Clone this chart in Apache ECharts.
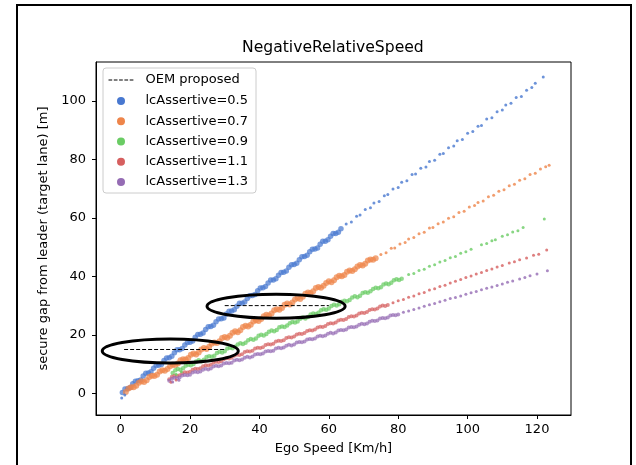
<!DOCTYPE html>
<html><head><meta charset="utf-8">
<script src="https://cdn.jsdelivr.net/npm/echarts@6/dist/echarts.min.js"></script>
<style>html,body{margin:0;padding:0;background:#fff}#c{width:636px;height:465px}</style>
</head><body><div id="c"></div>
<script>
const chartTitle = 'NegativeRelativeSpeed';
const xName = 'Ego Speed [Km/h]';
const yName = 'secure gap from leader (target lane) [m]';
const xTicks = [0, 20, 40, 60, 80, 100, 120];
const yTicks = [0, 20, 40, 60, 80, 100];
const oemName = 'OEM proposed';
const seriesNames = ['lcAssertive=0.5', 'lcAssertive=0.7', 'lcAssertive=0.9', 'lcAssertive=1.1', 'lcAssertive=1.3'];
const oemLow = [[1, 15], [30, 15]];
const oemHigh = [[30, 30], [60, 30]];

const blueDense = [[0.5,0.3],[2,1.6],[3.5,3.3],[5,4.3],[6.5,5.9],[8,7.0],[9.5,8.6],[11,9.6],[12.5,11.2],[14,12.2],[15.5,13.9],[17,14.9],[18.5,16.5],[20,17.5],[21.5,19.2],[23,20.2],[24.5,21.8],[26,22.9],[27.5,24.5],[29,25.5],[30.5,27.1],[32,28.2],[33.5,29.8],[35,30.8],[36.5,32.4],[38,33.5],[39.5,35.1],[41,36.1],[42.5,37.7],[44,38.8],[45.5,40.4],[47,41.4],[48.5,43.1],[50,44.1],[51.5,45.7],[53,46.8],[54.5,48.4],[56,49.4],[57.5,51.0],[59,52.0],[60.5,53.7],[62,54.7],[63.5,56.3]];
const blueMid = [[1.25,1.5],[2.75,2.0],[4.25,4.1],[5.75,4.6],[7.25,6.9],[8.75,7.4],[10.25,9.5],[11.75,9.9],[13.25,12.1],[14.75,12.7],[16.25,14.9],[17.75,15.3],[19.25,17.4],[20.75,17.9],[22.25,20.1],[23.75,20.6],[25.25,22.8],[26.75,23.3],[28.25,25.4],[29.75,25.8],[31.25,28.1],[32.75,28.6],[34.25,30.8],[35.75,31.2],[37.25,33.4],[38.75,33.8],[40.25,36.0],[41.75,36.5],[43.25,38.8],[44.75,39.2],[46.25,41.3],[47.75,41.8],[49.25,44.0],[50.75,44.5],[52.25,46.7],[53.75,47.2],[55.25,49.3],[56.75,49.7],[58.25,52.0],[59.75,52.5],[61.25,54.7],[62.75,55.1]];
const blueSparse = [[0.3,-1.6],[1.2,-0.6],[65,57.9],[66.5,58.6],[68,60.6],[69,61.0],[70.5,62.9],[72,63.5],[73,65.1],[74.5,65.6],[76,67.6],[77,68.0],[78.5,69.9],[80,70.4],[81,72.2],[82.5,72.7],[84,74.8],[85,75.0],[86.5,77.0],[88,77.4],[89,79.3],[90.5,79.7],[92,81.8],[93,82.0],[94.5,84.0],[96,84.6],[97,86.4],[98.5,86.8],[100,88.9],[101.5,89.5],[103,91.3],[104,91.6],[105.5,93.8],[107,94.2],[108.5,96.3],[110,96.9],[111,98.6],[112.5,99.2],[114,101.2],[115.5,101.5],[117,103.6],[118.5,104.6],[119.5,106.0],[121.8,108.2]];

const orangeDense = [[1.5,0.5],[3,2.1],[4.5,2.6],[6,4.1],[7.5,4.5],[9,6.0],[10.5,6.4],[12,7.9],[13.5,8.3],[15,9.8],[16.5,10.2],[18,11.7],[19.5,12.1],[21,13.6],[22.5,14.0],[24,15.5],[25.5,15.9],[27,17.4],[28.5,17.8],[30,19.3],[31.5,19.7],[33,21.2],[34.5,21.6],[36,23.1],[37.5,23.5],[39,25.0],[40.5,25.4],[42,26.9],[43.5,27.3],[45,28.8],[46.5,29.2],[48,30.7],[49.5,31.1],[51,32.6],[52.5,33.0],[54,34.5],[55.5,34.9],[57,36.4],[58.5,36.8],[60,38.3],[61.5,38.7],[63,40.2],[64.5,40.5],[66,42.0],[67.5,42.4],[69,43.9],[70.5,44.3],[72,45.8],[73.5,46.2]];
const orangeMid = [[2.25,1.7],[3.75,2.1],[5.25,3.6],[6.75,3.9],[8.25,5.6],[9.75,5.9],[11.25,7.5],[12.75,7.7],[14.25,9.3],[15.75,9.6],[17.25,11.3],[18.75,11.6],[20.25,13.2],[21.75,13.3],[23.25,15.0],[24.75,15.2],[26.25,17.0],[27.75,17.2],[29.25,18.9],[30.75,19.0],[32.25,20.7],[33.75,20.9],[35.25,22.7],[36.75,22.9],[38.25,24.6],[39.75,24.7],[41.25,26.4],[42.75,26.6],[44.25,28.4],[45.75,28.6],[47.25,30.3],[48.75,30.4],[50.25,32.1],[51.75,32.3],[53.25,34.1],[54.75,34.3],[56.25,36.0],[57.75,36.1],[59.25,37.7],[60.75,38.0],[62.25,39.7],[63.75,40.0],[65.25,41.6],[66.75,41.8],[68.25,43.4],[69.75,43.7],[71.25,45.4],[72.75,45.7]];
const orangeSparse = [[75,47.5],[76.5,48.1],[78,49.6],[79,49.7],[80.5,51.1],[82,51.6],[83,52.8],[84.5,53.3],[86,54.6],[87.5,55.1],[89,56.5],[90,56.7],[91.5,58.0],[93,58.6],[94.5,59.9],[96,60.4],[97.5,61.8],[99,62.3],[100.5,63.7],[102,64.2],[103,65.3],[104.5,65.8],[106,67.2],[107.5,67.7],[109,69.1],[110.5,69.6],[112,71.0],[113.5,71.5],[115,72.9],[116.5,73.4],[118,74.8],[119.5,75.3],[121,76.7],[122.5,77.5],[123.5,78.0]];

const greenDense = [[15,7.0],[16.5,8.3],[18,8.6],[19.5,9.8],[21,10.0],[22.5,11.3],[24,11.5],[25.5,12.7],[27,12.9],[28.5,14.2],[30,14.4],[31.5,15.6],[33,15.9],[34.5,17.1],[36,17.3],[37.5,18.6],[39,18.8],[40.5,20.0],[42,20.3],[43.5,21.5],[45,21.7],[46.5,22.9],[48,23.2],[49.5,24.4],[51,24.6],[52.5,25.9],[54,26.1],[55.5,27.3],[57,27.6],[58.5,28.8],[60,29.0],[61.5,30.3],[63,30.5],[64.5,31.7],[66,31.9],[67.5,33.2],[69,33.4],[70.5,34.6],[72,34.9],[73.5,36.1],[75,36.3],[76.5,37.6],[78,37.8],[79.5,39.0],[81,39.2]];
const greenMid = [[15.75,7.9],[17.25,8.1],[18.75,9.4],[20.25,9.6],[21.75,10.9],[23.25,11.0],[24.75,12.4],[26.25,12.5],[27.75,13.8],[29.25,14.0],[30.75,15.3],[32.25,15.4],[33.75,16.7],[35.25,16.9],[36.75,18.2],[38.25,18.3],[39.75,19.7],[41.25,19.8],[42.75,21.1],[44.25,21.2],[45.75,22.6],[47.25,22.7],[48.75,24.0],[50.25,24.2],[51.75,25.5],[53.25,25.6],[54.75,27.0],[56.25,27.1],[57.75,28.4],[59.25,28.6],[60.75,29.9],[62.25,30.0],[63.75,31.3],[65.25,31.5],[66.75,32.8],[68.25,32.9],[69.75,34.3],[71.25,34.4],[72.75,35.7],[74.25,35.9],[75.75,37.2],[77.25,37.3],[78.75,38.7],[80.25,38.8]];
const greenSparse = [[16,6.5],[17.5,7.4],[83,40.6],[84.5,41.0],[86,42.0],[87.5,42.4],[89,43.5],[90.5,44.0],[92,44.9],[93.5,45.4],[95,46.4],[96.5,46.8],[98,47.9],[99.5,48.4],[101,49.3],[104,50.8],[105.5,51.2],[107,52.2],[108,52.5],[110,53.7],[111.5,54.2],[113,55.2],[114.5,55.6],[116,56.7],[122.1,59.6]];

const redDense = [[14,4.8],[15.5,6.0],[17,6.2],[18.5,7.2],[20,7.4],[21.5,8.4],[23,8.6],[24.5,9.6],[26,9.8],[27.5,10.8],[29,11.0],[30.5,12.0],[32,12.2],[33.5,13.2],[35,13.4],[36.5,14.4],[38,14.6],[39.5,15.6],[41,15.8],[42.5,16.8],[44,17.0],[45.5,18.0],[47,18.2],[48.5,19.2],[50,19.4],[51.5,20.4],[53,20.6],[54.5,21.6],[56,21.8],[57.5,22.8],[59,23.0],[60.5,24.0],[62,24.2],[63.5,25.2],[65,25.4],[66.5,26.4],[68,26.6],[69.5,27.6],[71,27.8],[72.5,28.8],[74,29.0],[75.5,30.0],[77,30.2]];
const redMid = [[14.75,5.7],[16.25,5.9],[17.75,6.9],[19.25,7.1],[20.75,8.1],[22.25,8.3],[23.75,9.3],[25.25,9.5],[26.75,10.5],[28.25,10.7],[29.75,11.7],[31.25,11.9],[32.75,12.9],[34.25,13.1],[35.75,14.1],[37.25,14.3],[38.75,15.3],[40.25,15.5],[41.75,16.5],[43.25,16.7],[44.75,17.7],[46.25,17.9],[47.75,18.9],[49.25,19.1],[50.75,20.1],[52.25,20.3],[53.75,21.3],[55.25,21.5],[56.75,22.5],[58.25,22.7],[59.75,23.7],[61.25,23.9],[62.75,24.9],[64.25,25.1],[65.75,26.1],[67.25,26.3],[68.75,27.3],[70.25,27.5],[71.75,28.5],[73.25,28.7],[74.75,29.7],[76.25,29.9]];
const redSparse = [[14.5,3.8],[16,4.6],[78.5,31.0],[80,31.7],[81.5,32.1],[83,32.9],[84.5,33.3],[86,34.1],[87.5,34.5],[89,35.3],[90.5,35.8],[92,36.5],[93.5,37.0],[95,37.7],[96.5,38.3],[98,38.9],[99.5,39.6],[101,40.1],[102.5,40.8],[104,41.3],[105.5,42.0],[107,42.5],[108.5,43.2],[110,43.7],[112,44.6],[113.5,45.0],[115,45.7],[117,46.3],[119,47.2],[120.5,47.6],[122.8,49.0]];

const purpleDense = [[14,4.3],[15.5,5.3],[17,5.4],[18.5,6.3],[20,6.4],[21.5,7.4],[23,7.5],[24.5,8.4],[26,8.5],[27.5,9.4],[29,9.5],[30.5,10.4],[32,10.5],[33.5,11.5],[35,11.6],[36.5,12.5],[38,12.6],[39.5,13.5],[41,13.6],[42.5,14.5],[44,14.6],[45.5,15.6],[47,15.7],[48.5,16.6],[50,16.7],[51.5,17.6],[53,17.7],[54.5,18.6],[56,18.8],[57.5,19.7],[59,19.8],[60.5,20.7],[62,20.8],[63.5,21.7],[65,21.8],[66.5,22.7],[68,22.9],[69.5,23.8],[71,23.9],[72.5,24.8],[74,24.9],[75.5,25.8],[77,25.9],[78.5,26.8],[80,27.0]];
const purpleMid = [[14.75,5.0],[16.25,5.2],[17.75,6.1],[19.25,6.2],[20.75,7.1],[22.25,7.2],[23.75,8.1],[25.25,8.2],[26.75,9.2],[28.25,9.3],[29.75,10.2],[31.25,10.3],[32.75,11.2],[34.25,11.3],[35.75,12.2],[37.25,12.3],[38.75,13.3],[40.25,13.4],[41.75,14.3],[43.25,14.4],[44.75,15.3],[46.25,15.4],[47.75,16.3],[49.25,16.4],[50.75,17.4],[52.25,17.5],[53.75,18.4],[55.25,18.5],[56.75,19.4],[58.25,19.5],[59.75,20.4],[61.25,20.5],[62.75,21.5],[64.25,21.6],[65.75,22.5],[67.25,22.6],[68.75,23.5],[70.25,23.6],[71.75,24.5],[73.25,24.7],[74.75,25.6],[76.25,25.7],[77.75,26.6],[79.25,26.7]];
const purpleSparse = [[15,3.9],[16.8,4.5],[81.5,27.7],[83,28.2],[84.5,28.7],[86,29.2],[87.5,29.8],[89,30.3],[90.5,30.7],[92,31.3],[93.5,31.8],[95,32.4],[96.5,32.8],[98,33.3],[99.5,33.9],[101,34.4],[102.5,34.8],[104,35.4],[105.5,35.9],[107,36.4],[108.5,36.9],[110,37.4],[111.5,38.0],[113,38.4],[115,39.1],[116.5,39.6],[118,40.2],[120,40.8],[123,41.9]];

// annotation ellipses in data units: [centerX, centerY, radiusX, radiusY]
const ellipseMarks = [[14.3, 14.5, 19.6, 4.1], [44.8, 29.8, 19.9, 4.1]];

const colors = ['#4878d0', '#ee854a', '#6acc64', '#d65f5f', '#956cb4'];
const denseSets = [blueDense.concat(blueMid), orangeDense.concat(orangeMid), greenDense.concat(greenMid), redDense.concat(redMid), purpleDense.concat(purpleMid)];
const sparseSets = [blueSparse, orangeSparse, greenSparse, redSparse, purpleSparse];
const denseSizes = [5.5, 6, 4.5, 4, 4];
const FONT = 'DejaVu Sans';

const chart = echarts.init(document.getElementById('c'), null, {renderer: 'canvas'});
const series = [];
denseSets.forEach((d, i) => {
  series.push({type: 'scatter', name: seriesNames[i], data: d, symbol: 'circle', symbolSize: denseSizes[i],
    itemStyle: {color: colors[i], opacity: 0.72}, z: 2, silent: true});
});
sparseSets.forEach((d, i) => {
  series.push({type: 'scatter', name: seriesNames[i], data: d, symbol: 'circle', symbolSize: 3,
    itemStyle: {color: colors[i], opacity: 0.8}, z: 2, silent: true});
});
const oemStyle = {color: '#000', width: 1, type: [4, 2]};
series.unshift({type: 'line', name: oemName, data: oemLow, symbol: 'none', lineStyle: oemStyle, itemStyle: {color: '#000'}, z: 3, silent: true});
series.push({type: 'line', name: oemName, data: oemHigh, symbol: 'none', lineStyle: oemStyle, itemStyle: {color: '#000'}, z: 3, silent: true});

const tickLabel = {color: '#000', fontSize: 13, fontFamily: FONT};
chart.setOption({
  animation: false,
  backgroundColor: '#fff',
  title: {text: chartTitle, left: 242, top: 39, padding: 0,
    textStyle: {fontFamily: FONT, fontSize: 15.6, fontWeight: 'normal', color: '#000', lineHeight: 18}},
  grid: {left: 96, right: 65, top: 62, bottom: 50, show: true, borderColor: '#000', borderWidth: 1, containLabel: false},
  legend: {
    orient: 'vertical', left: 103, top: 68, itemWidth: 25, itemHeight: 8, itemGap: 0,
    padding: [1, 8, 1, 5], backgroundColor: 'rgba(255,255,255,0.8)', borderColor: '#ccc', borderWidth: 1, borderRadius: 3,
    textStyle: {fontFamily: FONT, fontSize: 13, color: '#000', lineHeight: 20.2, padding: [0, 0, 0, 7]},
    selectedMode: false,
    data: [{name: oemName, textStyle: {lineHeight: 22}, itemStyle: {color: 'rgba(0,0,0,0)', borderWidth: 0, opacity: 0}, lineStyle: {color: '#000', width: 1, type: [3.7, 1.6], opacity: 1}}]
      .concat(seriesNames.map((n, i) => ({name: n, icon: 'circle', itemStyle: {color: colors[i], opacity: 1}})))
  },
  xAxis: {type: 'value', min: -7.1, max: 129.8, splitLine: {show: false},
    axisLine: {show: true, onZero: false, lineStyle: {color: '#000', width: 1}},
    axisTick: {show: true, length: 4, customValues: xTicks, lineStyle: {color: '#000'}},
    axisLabel: Object.assign({customValues: xTicks, margin: 8}, tickLabel),
    name: xName, nameLocation: 'middle', nameGap: 27, nameTextStyle: {fontFamily: FONT, fontSize: 13, color: '#000'}},
  yAxis: {type: 'value', min: -7.4, max: 113.3, splitLine: {show: false},
    axisLine: {show: true, onZero: false, lineStyle: {color: '#000', width: 1}},
    axisTick: {show: true, length: 4, customValues: yTicks, lineStyle: {color: '#000'}},
    axisLabel: Object.assign({customValues: yTicks, margin: 10}, tickLabel),
    name: yName, nameLocation: 'middle', nameGap: 41, nameTextStyle: {fontFamily: FONT, fontSize: 13, color: '#000'}},
  series: series
});

const gfx = [{type: 'rect', shape: {x: 17, y: 5, width: 614, height: 475}, style: {fill: 'none', stroke: '#000', lineWidth: 2}, z: 100, silent: true}];
ellipseMarks.forEach(e => {
  const c = chart.convertToPixel({gridIndex: 0}, [e[0], e[1]]);
  const p = chart.convertToPixel({gridIndex: 0}, [e[0] + e[2], e[1] + e[3]]);
  gfx.push({type: 'ellipse', shape: {cx: c[0], cy: c[1], rx: Math.abs(p[0] - c[0]), ry: Math.abs(c[1] - p[1])},
    style: {fill: 'none', stroke: '#000', lineWidth: 3}, z: 100, silent: true});
});
chart.setOption({graphic: gfx});
</script></body></html>
